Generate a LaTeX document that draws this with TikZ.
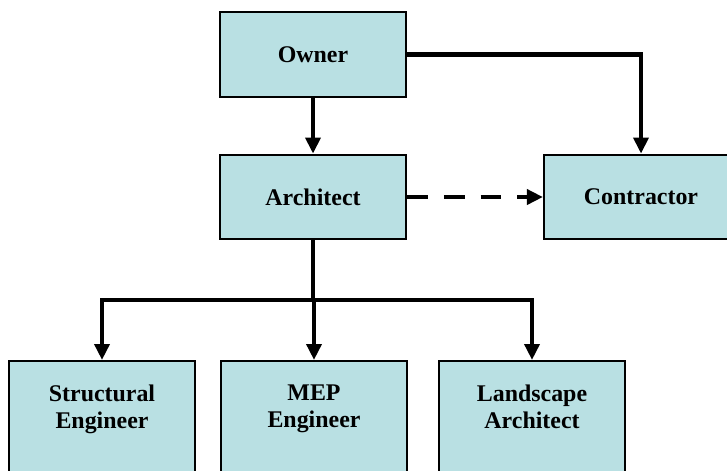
\documentclass[tikz,border=0pt]{standalone}
\usepackage{fontspec}
\setmainfont{Liberation Serif}
\usetikzlibrary{arrows.meta, positioning, calc}
\definecolor{cbox}{HTML}{B9E0E3}
\tikzset{
  every picture/.style={font=\bfseries\fontsize{17}{19}\selectfont, line width=1.4pt},
  box/.style={draw=black, fill=cbox, align=center, minimum width=4.65cm, minimum height=2.12cm, inner sep=3pt, line width=1.4pt},
  lowbox/.style={box, anchor=north, inner ysep=0.6cm, text depth=3cm},
  arrow/.style={-{Triangle[length=4mm, width=3.7mm]}, draw=black, line width=3.4pt},
  link/.style={draw=black, line width=3.4pt},
}

\begin{document}
\begin{tikzpicture}[x=0.025cm, y=-0.025cm]
  \useasboundingbox (0,0) rectangle (727,470);
  \clip (0,0) rectangle (727,470);
  \node[box] (owner) at (313,54.5) {Owner};
  \node[box] (arch) at (313,197) {Architect};
  \node[box, minimum width=4.85cm] (contr) at (641,197) {Contractor};
  \node[lowbox] (struct) at (102,360) {Structural\\Engineer};
  \node[lowbox] (mep) at (314,360) {MEP\\Engineer};
  \node[lowbox] (land) at (532,360) {Landscape\\Architect};
  \coordinate (split) at (arch.south |- 0,300);
  \draw[arrow] (owner) -- (arch);
  \draw[arrow] (owner.east) -| (contr.north);
  \draw[arrow, dash pattern=on 0.52cm off 0.4cm] (arch) -- (contr);
  \draw[link] (arch.south) -- (split);
  \foreach \b in {struct, mep, land} \draw[arrow] (split) -| (\b.north);
\end{tikzpicture}
\end{document}
